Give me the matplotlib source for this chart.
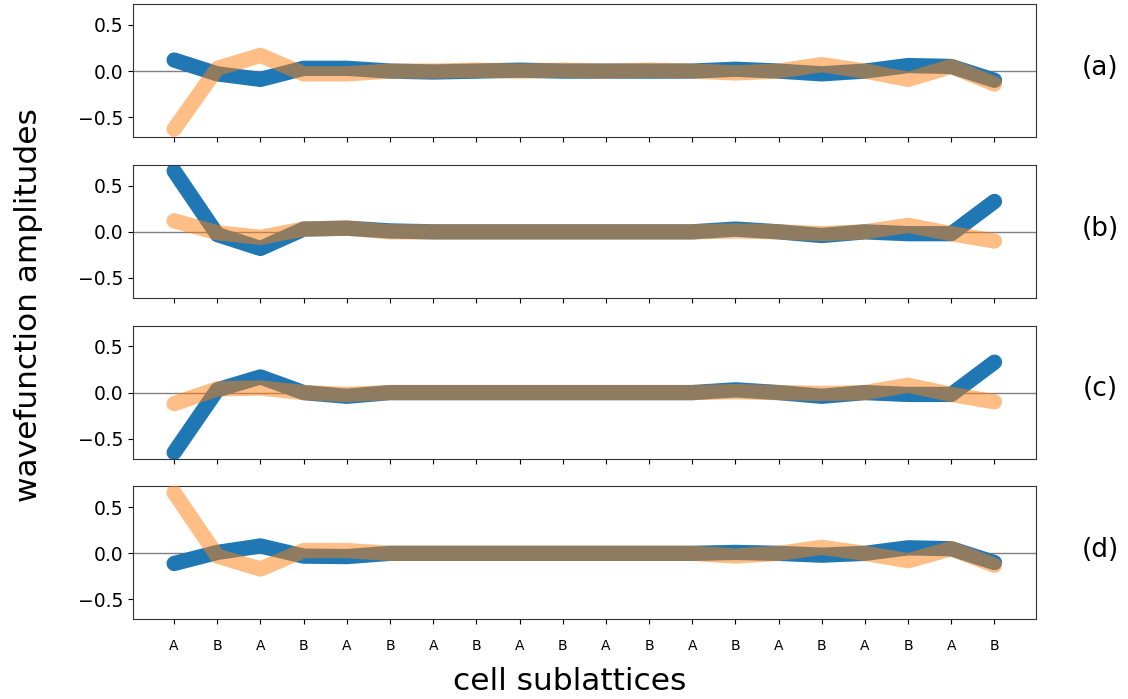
import numpy as np
import matplotlib
matplotlib.use("Agg")
import matplotlib.pyplot as plt

# sublattice labels along the chain
sites = ['A', 'B'] * 10
panels = ['(a)', '(b)', '(c)', '(d)']

# amplitudes (blue = first component, orange = second)
blue_a = [0.12, -0.03, -0.09, 0.03, 0.03, 0.0, -0.01, 0.0, 0.01, 0.0,
          0.0, 0.0, 0.0, 0.02, 0.0, -0.03, 0.0, 0.06, 0.05, -0.10]
orange_a = [-0.63, 0.03, 0.17, -0.03, -0.03, 0.0, 0.0, 0.01, 0.0, 0.01,
            0.0, 0.01, 0.0, -0.02, 0.0, 0.07, 0.0, -0.09, 0.05, -0.14]

blue_b = [0.66, -0.03, -0.18, 0.03, 0.04, 0.01, 0.0, 0.0, 0.0, 0.0,
          0.0, 0.0, 0.0, 0.03, 0.0, -0.04, 0.0, -0.02, -0.02, 0.33]
orange_b = [0.12, -0.01, -0.06, 0.03, 0.04, 0.0, 0.0, 0.0, 0.0, 0.0,
            0.0, 0.0, 0.0, 0.01, 0.0, -0.02, 0.0, 0.07, -0.02, -0.10]

blue_c = [-0.65, 0.03, 0.17, 0.0, -0.04, 0.0, 0.0, 0.0, 0.0, 0.0,
          0.0, 0.0, 0.0, 0.03, 0.0, -0.04, 0.0, -0.02, -0.02, 0.33]
orange_c = [-0.12, 0.04, 0.05, 0.0, -0.02, 0.0, 0.0, 0.0, 0.0, 0.0,
            0.0, 0.0, 0.0, 0.01, 0.0, -0.01, 0.0, 0.08, -0.02, -0.10]

blue_d = [-0.11, 0.01, 0.08, -0.03, -0.035, 0.0, 0.0, 0.0, 0.0, 0.0,
          0.0, 0.0, 0.0, 0.01, 0.0, -0.02, 0.0, 0.06, 0.05, -0.10]
orange_d = [0.66, -0.03, -0.17, 0.03, 0.03, 0.0, 0.0, 0.0, 0.0, 0.0,
            0.0, 0.0, 0.0, -0.03, 0.0, 0.065, 0.0, -0.08, 0.05, -0.13]

blues = [blue_a, blue_b, blue_c, blue_d]
oranges = [orange_a, orange_b, orange_c, orange_d]

x = np.arange(len(sites))

fig, axes = plt.subplots(4, 1, figsize=(11.28, 6.99), dpi=100, sharex=True, sharey=True)
fig.subplots_adjust(left=0.118, right=0.918, top=0.994, bottom=0.114, hspace=0.21)

for ax, b, o, lab in zip(axes, blues, oranges, panels):
    ax.axhline(0, color='gray', lw=1, zorder=1)
    ax.plot(x, b, color='#1f77b4', lw=11, solid_capstyle='round', zorder=2)
    ax.plot(x, o, color='#ff7f0e', lw=11, alpha=0.5, solid_capstyle='round', zorder=3)
    ax.text(1.072, 0.52, lab, transform=ax.transAxes, ha='center', va='center', fontsize=19)
    ax.set_yticks([-0.5, 0.0, 0.5])
    ax.tick_params(axis='y', labelsize=13.5)
    ax.tick_params(axis='x', labelsize=10, pad=11)
    for s in ax.spines.values():
        s.set_color('#333333')

axes[-1].set_xticks(x)
axes[-1].set_xticklabels(sites)

fig.text(0.505, 0.005, 'cell sublattices', ha='center', va='bottom', fontsize=22.5)
fig.text(0.025, 0.564, 'wavefunction amplitudes', rotation=90, ha='center', va='center', fontsize=22.5)

fig.savefig('out.png', dpi=100)
